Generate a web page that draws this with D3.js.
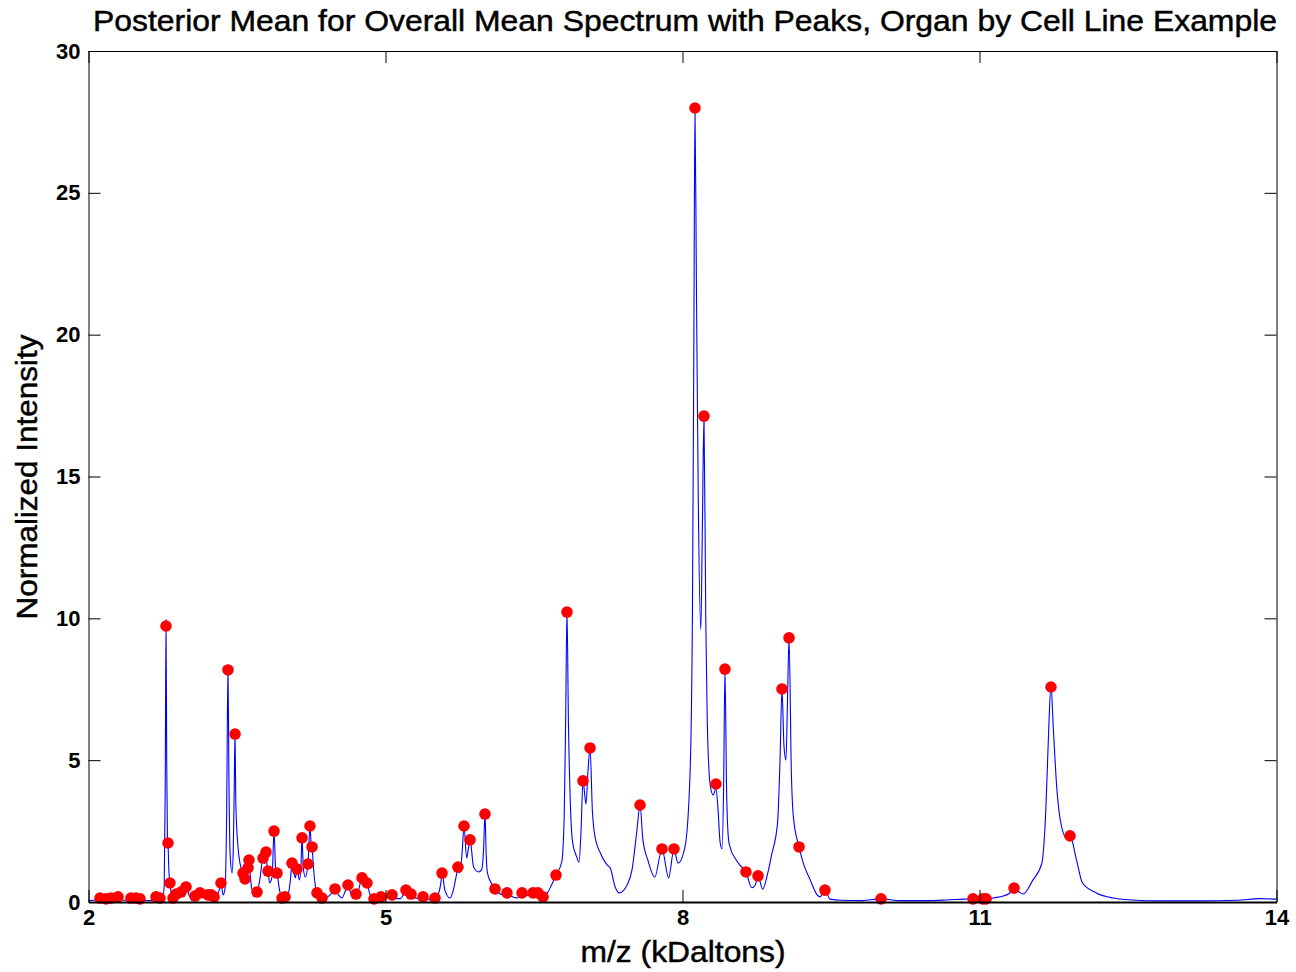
<!DOCTYPE html>
<html>
<head>
<meta charset="utf-8">
<script src="https://cdn.jsdelivr.net/npm/d3@7"></script>
<style>
  html, body { margin: 0; padding: 0; background: #fff; }
  svg { display: block; font-family: "Liberation Sans", Arial, Helvetica, sans-serif; }
</style>
</head>
<body>
<svg id="chart" width="1296" height="972"></svg>
<script>
// ---- data ----
const spectrumMz = [
  2.0,2.05,2.09,2.116,2.145,2.177,2.2,2.227,2.26,2.298,2.33,2.38,2.41,2.429,2.455,2.48,2.5,2.52,2.56,2.62,2.66,2.682,2.70,2.722,2.75,
  2.765,2.775,2.783,2.79,2.797,2.803,2.812,2.823,2.835,2.854,2.87,2.884,2.905,2.934,2.96,2.985,3.02,3.05,3.076,3.1,3.126,3.16,3.207,
  3.222,3.237,3.25,3.268,3.3,3.32,3.338,3.35,3.36,3.38,3.395,3.409,3.418,3.43,3.45,3.462,3.472,3.480,3.488,3.51,3.53,3.561,3.581,
  3.6,3.611,3.621,3.635,3.65,3.675,3.702,3.73,3.763,3.778,3.793,3.803,3.813,3.83,3.855,3.874,3.89,3.904,3.93,3.955,3.97,3.985,
  4.02,4.04,4.056,4.08,4.09,4.106,4.13,4.145,4.157,4.17,4.19,4.217,4.237,4.248,4.258,4.275,4.29,4.308,4.33,4.359,4.40,4.44,4.49,
  4.525,4.56,4.59,4.621,4.65,4.67,4.702,4.73,4.763,4.785,4.813,4.84,4.884,4.92,4.955,5.0,5.04,5.066,5.1,5.15,5.18,5.207,5.23,5.258,
  5.3,5.34,5.379,5.42,5.46,5.5,5.53,5.56,5.571,5.6,5.65,5.68,5.72,5.732,5.75,5.775,5.793,5.82,5.838,5.854,5.89,5.94,5.97,5.99,6.005,
  6.018,6.03,6.08,6.106,6.19,6.227,6.27,6.33,6.379,6.43,6.49,6.515,6.54,6.565,6.591,6.64,6.69,6.722,6.78,6.805,6.82,6.833,6.848,
  6.87,6.89,6.93,6.955,6.975,6.995,7.025,7.045,7.066,7.09,7.117,7.17,7.24,7.27,7.32,7.36,7.44,7.49,7.54,7.571,7.6,7.65,7.72,7.793,
  7.86,7.914,7.955,8.025,8.076,8.1,8.115,8.126,8.14,8.16,8.185,8.2,8.217,8.235,8.25,8.28,8.31,8.338,8.36,8.38,8.40,8.415,8.429,
  8.445,8.465,8.48,8.53,8.58,8.641,8.70,8.735,8.763,8.81,8.86,8.90,8.96,8.985,9.005,9.025,9.045,9.06,9.076,9.1,9.12,9.177,9.22,
  9.29,9.36,9.39,9.439,9.49,9.6,9.8,10.005,10.2,10.5,10.7,10.85,10.934,10.98,11.035,11.066,11.15,11.24,11.3,11.349,11.4,11.44,
  11.54,11.63,11.67,11.70,11.722,11.745,11.78,11.83,11.88,11.914,11.98,12.04,12.18,12.35,12.55,12.8,13.2,13.6,13.83,14.0
];
const spectrumIntensity = [
  0.05,0.06,0.07,0.14,0.08,0.11,0.08,0.14,0.09,0.18,0.08,0.06,0.08,0.14,0.09,0.14,0.09,0.11,0.06,0.05,0.08,0.18,0.12,0.14,0.15,
  0.6,4.0,9.95,5.0,2.3,2.08,1.1,0.67,0.3,0.14,0.15,0.28,0.15,0.35,0.2,0.53,0.2,0.1,0.21,0.12,0.32,0.15,0.25,
  0.18,0.25,0.15,0.18,0.25,0.42,0.67,0.42,0.25,0.5,3.0,8.35,4.5,1.73,1.02,1.8,4.0,6.0,3.5,1.94,1.37,1.02,0.81,
  0.95,1.2,1.48,0.9,0.45,0.38,0.35,0.78,1.55,1.35,1.76,1.3,1.09,0.67,0.9,2.5,1.2,1.02,0.42,0.14,0.12,0.18,
  0.32,0.8,1.37,0.95,0.85,1.16,0.78,1.2,2.26,1.2,0.88,1.34,2.68,2.1,1.94,1.1,0.6,0.32,0.2,0.14,0.15,0.25,0.46,
  0.25,0.14,0.35,0.6,0.3,0.18,0.28,0.45,0.85,0.55,0.67,0.3,0.11,0.12,0.18,0.16,0.15,0.25,0.12,0.12,0.25,0.42,0.28,0.28,
  0.15,0.12,0.18,0.1,0.08,0.14,0.25,0.7,1.02,0.42,0.14,0.35,1.02,1.23,1.02,1.8,2.68,1.55,1.9,2.19,1.23,1.06,1.13,1.8,3.1,
  1.6,1.02,0.6,0.46,0.25,0.32,0.2,0.14,0.32,0.22,0.32,0.26,0.32,0.24,0.18,0.35,0.7,0.95,1.41,3.0,6.5,10.3,6.3,
  3.2,2.1,1.6,1.4,2.5,4.27,3.45,4.6,5.43,3.2,2.29,1.73,1.3,1.2,0.53,0.32,0.6,1.13,2.54,3.42,2.19,1.48,0.88,1.87,
  0.85,1.87,1.37,1.94,4.5,10.0,20.0,28.1,22.0,14.0,9.6,13.0,17.13,10.0,6.4,4.12,3.77,4.0,3.2,2.1,1.87,4.0,8.21,
  4.0,2.2,1.94,1.55,1.3,1.06,0.5,0.6,0.92,0.45,1.0,1.66,2.78,5.0,7.51,5.5,5.0,7.0,9.31,4.5,3.0,1.94,1.37,
  0.78,0.25,0.18,0.42,0.1,0.06,0.05,0.11,0.05,0.05,0.08,0.1,0.11,0.1,0.11,0.11,0.15,0.21,0.3,0.49,0.35,0.28,
  0.78,1.37,3.24,6.17,7.65,6.17,4.05,2.64,2.26,2.33,1.48,0.67,0.32,0.14,0.07,0.04,0.04,0.06,0.12,0.1
];
const peakMz = [
  2.116,2.177,2.227,2.298,2.429,2.480,2.520,2.682,2.722,2.783,2.803,2.823,2.854,2.884,2.934,2.985,3.076,3.126,3.207,3.237,
  3.268,3.338,3.409,3.480,3.561,3.581,3.611,3.621,3.702,3.763,3.793,3.813,3.874,3.904,3.955,3.985,4.056,4.106,4.157,4.217,
  4.237,4.258,4.308,4.359,4.490,4.621,4.702,4.763,4.813,4.884,4.955,5.066,5.207,5.258,5.379,5.500,5.571,5.732,5.793,5.854,
  6.005,6.106,6.227,6.379,6.490,6.540,6.591,6.722,6.833,6.995,7.066,7.571,7.793,7.914,8.126,8.217,8.338,8.429,8.641,8.763,
  9.005,9.076,9.177,9.439,10.005,10.934,11.035,11.066,11.349,11.722,11.914
];
const peakIntensity = [
  0.14,0.11,0.14,0.18,0.14,0.14,0.11,0.18,0.14,9.73,2.08,0.67,0.14,0.28,0.35,0.53,0.21,0.32,0.25,0.25,
  0.18,0.67,8.18,5.92,1.02,0.81,1.20,1.48,0.35,1.55,1.76,1.09,2.50,1.02,0.14,0.18,1.37,1.16,2.26,1.34,
  2.68,1.94,0.32,0.14,0.46,0.60,0.28,0.85,0.67,0.11,0.18,0.25,0.42,0.28,0.18,0.14,1.02,1.23,2.68,2.19,
  3.10,0.46,0.32,0.32,0.32,0.32,0.18,0.95,10.22,4.27,5.43,3.42,1.87,1.87,27.99,17.13,4.16,8.21,1.06,0.92,
  7.51,9.31,1.94,0.42,0.11,0.11,0.11,0.11,0.49,7.58,2.33
];
const xTicks = [2, 5, 8, 11, 14];
const yTicks = [0, 5, 10, 15, 20, 25, 30];
const titleText = "Posterior Mean for Overall Mean Spectrum with Peaks, Organ by Cell Line Example";
const xLabel = "m/z (kDaltons)";
const yLabel = "Normalized Intensity";

// ---- layout ----
const svg = d3.select("#chart");
const L = 88.5, R = 1276.5, T = 51, B = 902;
const x = d3.scaleLinear().domain([2, 14]).range([L, R]);
const y = d3.scaleLinear().domain([0, 30]).range([B, T]);
const tickLen = 12;

// spectrum line
const spectrum = spectrumMz.map((m, i) => [m, spectrumIntensity[i]]);
const line = d3.line().x(d => x(d[0])).y(d => y(d[1])).curve(d3.curveMonotoneX);
svg.append("path").datum(spectrum)
  .attr("d", line).attr("fill", "none").attr("stroke", "#0000ff").attr("stroke-width", 1.1);

// peaks
svg.append("g").selectAll("circle").data(peakMz).join("circle")
  .attr("cx", d => x(d)).attr("cy", (d, i) => y(peakIntensity[i])).attr("r", 5.8).attr("fill", "#ff0000");

// axes (box with inward ticks)
const fmt = d3.format("d");
const axB = d3.axisBottom(x).tickValues(xTicks).tickFormat(fmt).tickSizeInner(-tickLen).tickSizeOuter(0).tickPadding(7);
const axT = d3.axisTop(x).tickValues(xTicks).tickFormat("").tickSizeInner(-tickLen).tickSizeOuter(0);
const axLft = d3.axisLeft(y).tickValues(yTicks).tickFormat(fmt).tickSizeInner(-tickLen).tickSizeOuter(0).tickPadding(8);
const axRgt = d3.axisRight(y).tickValues(yTicks).tickFormat("").tickSizeInner(-tickLen).tickSizeOuter(0);

function styleAxis(g) {
  g.select(".domain").attr("stroke", "#000").attr("stroke-width", 1);
  g.selectAll(".tick line").attr("stroke", "#000").attr("stroke-width", 1);
  g.selectAll(".tick text").attr("fill", "#000").attr("font-size", 22).attr("font-weight", "bold")
    .attr("font-family", "Liberation Sans, Arial, sans-serif");
}
svg.append("g").attr("transform", `translate(0,${B})`).call(axB).call(styleAxis)
  .selectAll(".domain").attr("stroke-width", 2);
svg.append("g").attr("transform", `translate(0,${T})`).call(axT).call(styleAxis);
svg.append("g").attr("transform", `translate(${L},0)`).call(axLft).call(styleAxis);
svg.append("g").attr("transform", `translate(${R},0)`).call(axRgt).call(styleAxis);

// title and labels
svg.append("text").attr("x", 93).attr("y", 31)
  .attr("font-size", 29).attr("fill", "#000").attr("stroke", "#000").attr("stroke-width", 0.45)
  .attr("textLength", 1184).attr("lengthAdjust", "spacingAndGlyphs").text(titleText);
svg.append("text").attr("x", 683).attr("y", 962).attr("text-anchor", "middle")
  .attr("font-size", 30).attr("fill", "#000").attr("stroke", "#000").attr("stroke-width", 0.45)
  .attr("textLength", 205).attr("lengthAdjust", "spacingAndGlyphs").text(xLabel);
svg.append("text").attr("transform", `translate(37,477) rotate(-90)`).attr("text-anchor", "middle")
  .attr("font-size", 30).attr("fill", "#000").attr("stroke", "#000").attr("stroke-width", 0.45)
  .attr("textLength", 285).attr("lengthAdjust", "spacingAndGlyphs").text(yLabel);
</script>
</body>
</html>
